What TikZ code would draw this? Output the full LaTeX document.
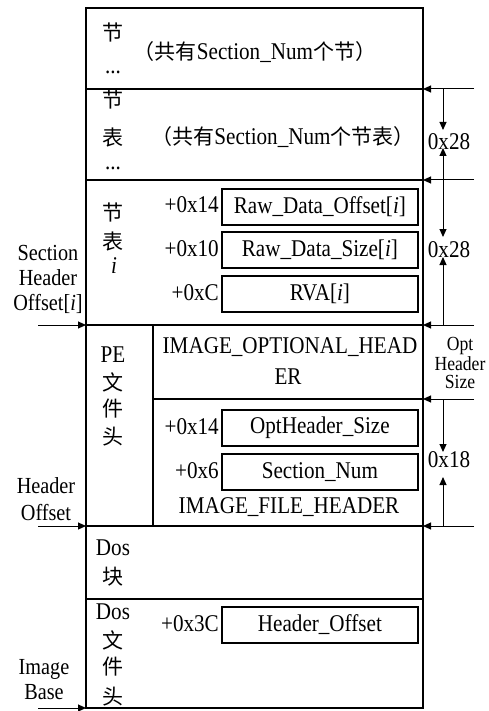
\documentclass[tikz,border=0pt]{standalone}
\usepackage{fontspec}
\setmainfont{Liberation Serif}[FakeStretch=0.88]
\newfontfamily\cjk{Noto Sans CJK SC}
\usetikzlibrary{arrows.meta}
\begin{document}
\begin{tikzpicture}[x=1pt,y=-1pt,
  frame/.style={line width=1.8pt},
  fieldbox/.style={draw,line width=1.8pt,minimum width=196pt,minimum height=36pt,inner sep=0pt,anchor=north west,font=\fontsize{24}{24}\selectfont},
  lbl/.style={font=\fontsize{24}{24}\selectfont,inner sep=0pt},
  cj/.style={font=\fontsize{21}{21}\selectfont\cjk,inner sep=0pt},
  off/.style={font=\fontsize{24}{24}\selectfont,inner sep=0pt,anchor=east},
  side/.style={font=\fontsize{23}{23}\selectfont,inner sep=0pt,align=center},
  arr/.style={line width=1pt,-{Triangle[length=8pt,width=7pt]}},
]
\useasboundingbox (0,0) rectangle (488,711);
% frame
\draw[frame] (86,8) rectangle (423,708);
\draw[frame] (86,89) -- (423,89);
\draw[frame] (86,180) -- (423,180);
\draw[frame] (86,325) -- (423,325);
\draw[frame] (86,526) -- (423,526);
\draw[frame] (86,599) -- (423,599);
\draw[frame] (153,325) -- (153,526);
\draw[frame] (153,399) -- (423,399);
% section block
\node[cj] (s1) at (113,33) {节};
\node[lbl] (s2) at (113,72) {...};
\node[lbl] (s3) at (255,52) {{\cjk\fontsize{21}{21}\selectfont （共有}Section\_Num{\cjk\fontsize{21}{21}\selectfont 个节）}};
% section table block
\node[cj] (t1) at (113,100) {节};
\node[cj] (t2) at (113,138) {表};
\node[lbl] (t3) at (113,168) {...};
\node[lbl] (t4) at (283,137) {{\cjk\fontsize{21}{21}\selectfont （共有}Section\_Num{\cjk\fontsize{21}{21}\selectfont 个节表）}};
% section table i
\node[cj] (u1) at (113,212) {节};
\node[cj] (u2) at (113,242) {表};
\node[lbl] (u3) at (114,266) {\textit{i}};
\node[fieldbox] (f1) at (221,188) {Raw\_Data\_Offset[\textit{i}]};
\node[fieldbox] (f2) at (221,231) {Raw\_Data\_Size[\textit{i}]};
\node[fieldbox] (f3) at (221,275) {RVA[\textit{i}]};
\node[off] (o1) at (219,205) {+0x14};
\node[off] (o2) at (219,249) {+0x10};
\node[off] (o3) at (219,293) {+0xC};
% PE header
\node[lbl] (p1) at (113,355) {PE};
\node[cj] (p2) at (113,382) {文};
\node[cj] (p3) at (113,409) {件};
\node[cj] (p4) at (113,437) {头};
\node[lbl] (p5) at (290,347) {IMAGE\_OPTIONAL\_HEAD};
\node[lbl] (p6) at (288,377) {ER};
\node[fieldbox] (f4) at (221,409) {OptHeader\_Size};
\node[fieldbox] (f5) at (221,453) {Section\_Num};
\node[off] (o4) at (219,427) {+0x14};
\node[off] (o5) at (219,471) {+0x6};
\node[lbl] (p7) at (289,507) {IMAGE\_FILE\_HEADER};
% Dos block
\node[lbl] (d1) at (113,548) {Dos};
\node[cj] (d2) at (113,577) {块};
% Dos header
\node[lbl] (h1) at (113,612) {Dos};
\node[cj] (h2) at (113,640) {文};
\node[cj] (h3) at (113,667) {件};
\node[cj] (h4) at (113,697) {头};
\node[fieldbox] (f6) at (221,606) {Header\_Offset};
\node[off] (o6) at (219,624) {+0x3C};
% left labels
\node[side] (l1) at (48,279) {Section\\[2pt]Header\\[2pt]Offset[\textit{i}]};
\node[side] (l2) at (46,499) {Header\\[4pt]Offset};
\node[side] (l3) at (44,680) {Image\\[2pt]Base};
\coordinate (la1) at (38,325); \coordinate (lb1) at (86,325);
\coordinate (la2) at (38,526); \coordinate (lb2) at (86,526);
\coordinate (la3) at (38,708); \coordinate (lb3) at (86,708);
\draw[arr] (la1) -- (lb1);
\draw[arr] (la2) -- (lb2);
\draw[arr] (la3) -- (lb3);
% right side
\foreach \n/\y in {1/89,2/180,3/325,4/399,5/526}{
  \coordinate (ra\n) at (474,\y);
  \coordinate (rb\n) at (423,\y);
  \coordinate (rv\n) at (443,\y);
  \draw[arr] (ra\n) -- (rb\n);
}
\coordinate (v1) at (443,130);
\coordinate (v2) at (443,148);
\coordinate (v3) at (443,237);
\coordinate (v4) at (443,257);
\coordinate (v5) at (443,452);
\coordinate (v6) at (443,477);
\draw[arr] (rv1) -- (v1);
\draw[arr] (rv2) -- (v2);
\draw[arr] (rv2) -- (v3);
\draw[arr] (rv3) -- (v4);
\draw[arr] (rv4) -- (v5);
\draw[arr] (rv5) -- (v6);
\node[lbl] (r1) at (449,142) {0x28};
\node[lbl] (r2) at (449,250) {0x28};
\node[lbl] (r3) at (449,460) {0x18};
\node[side,font=\fontsize{20}{18}\selectfont] (r4) at (460,363) {Opt\\Header\\Size};
\end{tikzpicture}
\end{document}
